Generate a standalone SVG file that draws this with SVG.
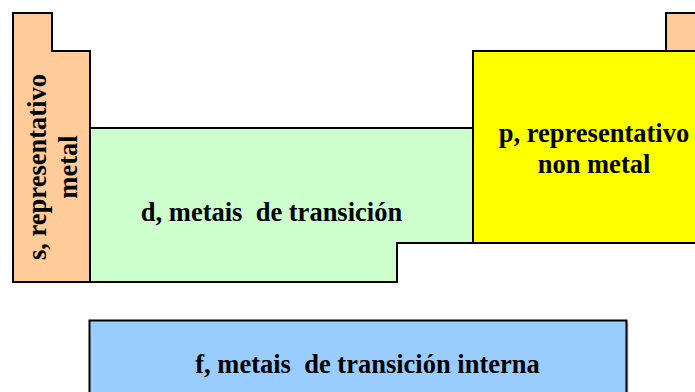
<svg xmlns="http://www.w3.org/2000/svg" width="695" height="392" viewBox="0 0 695 392" xml:space="preserve">
<style>
.blk{stroke:#000;stroke-width:2;stroke-linejoin:miter}
.lbl{font-family:"Liberation Serif","Times New Roman",serif;font-weight:bold;font-size:26.5px;fill:#000;text-anchor:middle;white-space:pre}
</style>
<rect width="695" height="392" fill="#fff"/>
<g id="s-block">
<path class="blk" fill="#FFCC99" d="M13,13 H52 V51 H90 V282 H13 Z"/>
<text class="lbl" transform="translate(45.5,167) rotate(-90)">s, representativo</text>
<text class="lbl" transform="translate(76.5,167) rotate(-90)">metal</text>
</g>
<g id="d-block">
<path class="blk" fill="#CCFFCC" d="M90,128 H473 V243 H397 V282 H90 Z"/>
<text class="lbl" x="271.5" y="221">d, metais  de transición</text>
</g>
<g id="p-block">
<path class="blk" fill="#FFCC99" d="M666,13 H700 V51 H666 Z"/>
<path class="blk" fill="#FFFF00" d="M473,51 H700 V243 H473 Z"/>
<text class="lbl" x="594" y="142">p, representativo</text>
<text class="lbl" x="594" y="173">non metal</text>
</g>
<g id="f-block">
<rect x="91.5" y="322.5" width="537" height="80" fill="#999" opacity="0.5"/>
<rect class="blk" x="89.5" y="320.5" width="537" height="80" fill="#99CCFF"/>
<text class="lbl" x="367.5" y="373">f, metais  de transición interna</text>
</g>
<g id="connectors"></g>
</svg>
